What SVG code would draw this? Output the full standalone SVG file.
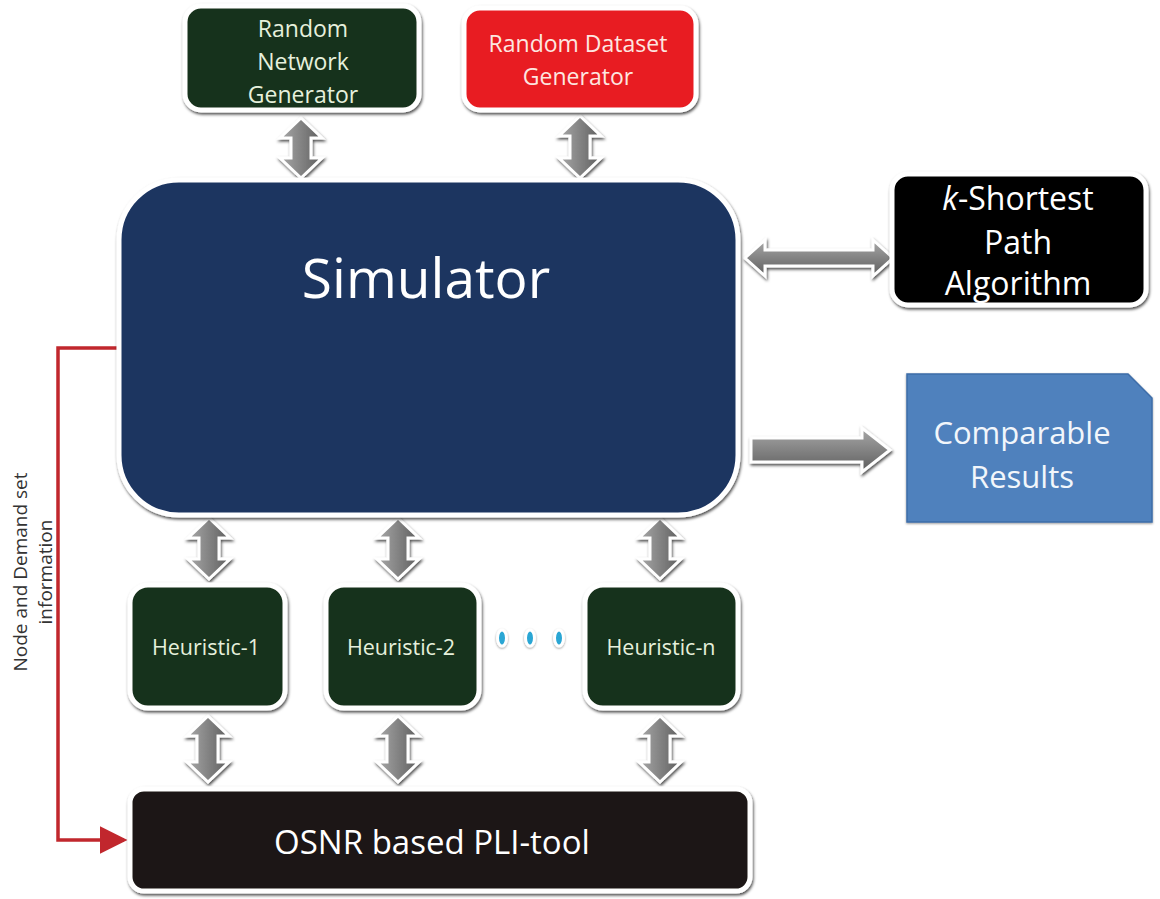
<svg xmlns="http://www.w3.org/2000/svg" width="1160" height="899" viewBox="0 0 1160 899">
<style>
.box{stroke:#fff;stroke-width:5;filter:url(#sh)}
.t{font-family:"Open Sans","Noto Sans",sans-serif;text-anchor:middle}
.arr{fill:url(#gv);stroke:#fff;stroke-width:3;stroke-linejoin:miter;filter:url(#sh)}
.arrh{fill:url(#gh);stroke:#fff;stroke-width:3;filter:url(#sh)}
.dot{fill:#2aa6d4;stroke:#fff;stroke-width:3;filter:url(#sh2)}
</style>
<defs>
<filter id="sh" x="-20%" y="-20%" width="140%" height="140%"><feDropShadow dx="1" dy="2" stdDeviation="1.5" flood-color="#000" flood-opacity="0.7"/></filter>
<filter id="sh2" x="-50%" y="-50%" width="200%" height="200%"><feDropShadow dx="0" dy="1" stdDeviation="1" flood-color="#000" flood-opacity="0.4"/></filter>
<linearGradient id="gv" x1="0" y1="0" x2="1" y2="0"><stop offset="0" stop-color="#a8a8a8"/><stop offset="1" stop-color="#5e5e5e"/></linearGradient>
<linearGradient id="gh" x1="0" y1="0" x2="0" y2="1"><stop offset="0" stop-color="#a8a8a8"/><stop offset="1" stop-color="#5e5e5e"/></linearGradient>
<marker id="rh" markerWidth="8" markerHeight="8" refX="7" refY="4" orient="auto" markerUnits="strokeWidth"><path d="M0,0 L8,4 L0,8 Z" fill="#c1272d"/></marker>
</defs>
<rect width="1160" height="899" fill="#fff"/>

<g id="connectors">
<path d="M120,348 H58 V840 H124" fill="none" stroke="#c1272d" stroke-width="3.5" marker-end="url(#rh)"/>
<text class="t" transform="translate(27,572) rotate(-90)" font-size="19" fill="#333">Node and Demand set</text>
<text class="t" transform="translate(52,572) rotate(-90)" font-size="19" fill="#333">information</text>
<!-- top vertical double arrows -->
<path class="arr" d="M301,118 L322,138 L311,138 L311,158 L322,158 L301,178 L280,158 L291,158 L291,138 L280,138 Z"/>
<path class="arr" d="M580,116 L601,136 L590,136 L590,158 L601,158 L580,178 L559,158 L570,158 L570,136 L559,136 Z"/>
<!-- simulator to heuristics -->
<path class="arr" d="M209,518 L230,538 L219,538 L219,559 L230,559 L209,579 L188,559 L199,559 L199,538 L188,538 Z"/>
<path class="arr" d="M398,518 L419,538 L408,538 L408,559 L419,559 L398,579 L377,559 L388,559 L388,538 L377,538 Z"/>
<path class="arr" d="M660,518 L681,538 L670,538 L670,559 L681,559 L660,579 L639,559 L650,559 L650,538 L639,538 Z"/>
<!-- heuristics to OSNR -->
<path class="arr" d="M208,716 L229,736 L218,736 L218,762 L229,762 L208,782 L187,762 L197,762 L197,736 L187,736 Z"/>
<path class="arr" d="M398,716 L419,736 L408,736 L408,762 L419,762 L398,782 L377,762 L387,762 L387,736 L377,736 Z"/>
<path class="arr" d="M660,716 L681,736 L670,736 L670,762 L681,762 L660,782 L639,762 L649,762 L649,736 L639,736 Z"/>
<!-- horizontal double arrow to k-shortest -->
<path class="arrh" d="M745,258 L765,240 L765,250 L873,250 L873,240 L893,258 L873,276 L873,266 L765,266 L765,276 Z"/>
<!-- right arrow to results -->
<path class="arrh" d="M751,438 L862,438 L862,428 L890,450 L862,472 L862,462 L751,462 Z"/>
</g>

<g id="rng">
<rect class="box" x="185" y="6" width="234" height="104" rx="16" fill="#18301a"/>
<text class="t" x="303" y="37" font-size="23" fill="#e6f0dc">Random</text>
<text class="t" x="303" y="70" font-size="23" fill="#e6f0dc">Network</text>
<text class="t" x="303" y="103" font-size="23" fill="#e6f0dc">Generator</text>
</g>

<g id="rdg">
<rect class="box" x="464" y="8" width="232" height="102" rx="16" fill="#e81c24"/>
<text class="t" x="578" y="52" font-size="23" fill="#fde6e0">Random Dataset</text>
<text class="t" x="578" y="85" font-size="23" fill="#fde6e0">Generator</text>
</g>

<g id="simulator">
<rect class="box" x="119" y="180" width="619" height="335" rx="60" fill="#1b3461"/>
<text class="t" x="426" y="298" font-size="55" fill="#fff">Simulator</text>
</g>

<g id="ksp">
<rect class="box" x="892" y="174" width="254" height="131" rx="16" fill="#000"/>
<text class="t" x="1018" y="210" font-size="32" fill="#fff"><tspan font-style="italic">k</tspan>-Shortest</text>
<text class="t" x="1018" y="254" font-size="32" fill="#fff">Path</text>
<text class="t" x="1018" y="295" font-size="32" fill="#fff">Algorithm</text>
</g>

<g id="results">
<path d="M907,374 H1128 L1152,398 V522 H907 Z" fill="#4f81bd" stroke="#3d6da8" stroke-width="1.5" filter="url(#sh2)"/>
<text class="t" x="1022" y="444" font-size="31" fill="#f2f6fb">Comparable</text>
<text class="t" x="1022" y="488" font-size="31" fill="#f2f6fb">Results</text>
</g>

<g id="h1">
<rect class="box" x="130" y="585" width="155" height="123" rx="18" fill="#18301a"/>
<text class="t" x="206" y="655" font-size="21.5" fill="#e6f0dc">Heuristic-1</text>
</g>
<g id="h2">
<rect class="box" x="326" y="585" width="153" height="123" rx="18" fill="#18301a"/>
<text class="t" x="401" y="655" font-size="21.5" fill="#e6f0dc">Heuristic-2</text>
</g>
<g id="dots">
<ellipse class="dot" cx="502" cy="638" rx="4.5" ry="8"/>
<ellipse class="dot" cx="530" cy="638" rx="4.5" ry="8"/>
<ellipse class="dot" cx="559" cy="638" rx="4.5" ry="8"/>
</g>
<g id="hn">
<rect class="box" x="585" y="585" width="153" height="123" rx="18" fill="#18301a"/>
<text class="t" x="661" y="655" font-size="21.5" fill="#e6f0dc">Heuristic-n</text>
</g>

<g id="osnr">
<rect class="box" x="130" y="789" width="620" height="102" rx="14" fill="#1c1713"/>
<text class="t" x="432" y="854" font-size="33" fill="#fff">OSNR based PLI-tool</text>
</g>
</svg>
